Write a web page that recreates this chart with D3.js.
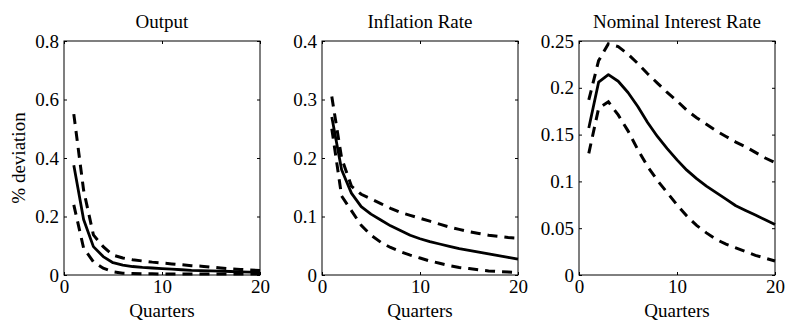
<!doctype html>
<html>
<head>
    <meta charset="utf-8">
    <script src="https://d3js.org/d3.v7.min.js"></script>
    <style>
        body { margin: 0; background: #fff; }
        svg { display: block; }
        text { font-family: "Liberation Serif", "Times New Roman", serif; fill: #000; }
    </style>
</head>
<body>
<svg id="chart" width="787" height="323"></svg>
<script>
    // quarters after the shock
    var quarters = [1, 2, 3, 4, 5, 6, 7, 8, 9, 10, 11, 12, 13, 14, 15, 16, 17, 18, 19, 20];

    // Output
    var outputMean = [0.375, 0.19, 0.097, 0.063, 0.042, 0.034, 0.029, 0.026, 0.024, 0.022, 0.020, 0.018, 0.016, 0.015, 0.014, 0.013, 0.012, 0.011, 0.010, 0.009];
    var outputUpper = [0.55, 0.29, 0.137, 0.097, 0.068, 0.058, 0.052, 0.048, 0.044, 0.041, 0.038, 0.035, 0.032, 0.030, 0.027, 0.024, 0.021, 0.019, 0.017, 0.015];
    var outputLower = [0.24, 0.092, 0.045, 0.023, 0.011, 0.006, 0.005, 0.004, 0.004, 0.003, 0.003, 0.003, 0.003, 0.003, 0.003, 0.003, 0.003, 0.003, 0.003, 0.003];

    // Inflation Rate
    var inflMean = [0.27, 0.18, 0.14, 0.117, 0.104, 0.094, 0.084, 0.076, 0.068, 0.062, 0.057, 0.053, 0.049, 0.045, 0.042, 0.039, 0.036, 0.033, 0.030, 0.027];
    var inflUpper = [0.305, 0.20, 0.152, 0.138, 0.13, 0.122, 0.114, 0.107, 0.102, 0.097, 0.092, 0.087, 0.082, 0.078, 0.074, 0.071, 0.068, 0.066, 0.064, 0.063];
    var inflLower = [0.25, 0.135, 0.11, 0.085, 0.068, 0.056, 0.047, 0.040, 0.034, 0.029, 0.024, 0.020, 0.016, 0.013, 0.011, 0.009, 0.007, 0.006, 0.005, 0.004];

    // Nominal Interest Rate
    var rateMean = [0.157, 0.206, 0.214, 0.207, 0.195, 0.18, 0.163, 0.148, 0.135, 0.123, 0.112, 0.103, 0.095, 0.088, 0.081, 0.074, 0.069, 0.064, 0.059, 0.054];
    var rateUpper = [0.187, 0.229, 0.247, 0.244, 0.236, 0.226, 0.215, 0.205, 0.195, 0.186, 0.176, 0.168, 0.161, 0.154, 0.148, 0.142, 0.137, 0.131, 0.125, 0.12];
    var rateLower = [0.13, 0.178, 0.185, 0.171, 0.154, 0.134, 0.116, 0.101, 0.088, 0.075, 0.063, 0.053, 0.045, 0.038, 0.033, 0.029, 0.025, 0.021, 0.018, 0.015];

    var titles = ["Output", "Inflation Rate", "Nominal Interest Rate"];
    var xTicks = [0, 10, 20];
    var yTicksOutput = [0, 0.2, 0.4, 0.6, 0.8];
    var yTicksInfl = [0, 0.1, 0.2, 0.3, 0.4];
    var yTicksRate = [0, 0.05, 0.1, 0.15, 0.2, 0.25];

    var panels = [
        { title: titles[0], yTicks: yTicksOutput, mean: outputMean, upper: outputUpper, lower: outputLower },
        { title: titles[1], yTicks: yTicksInfl, mean: inflMean, upper: inflUpper, lower: inflLower },
        { title: titles[2], yTicks: yTicksRate, mean: rateMean, upper: rateUpper, lower: rateLower }
    ];

    var lefts = [64, 322, 579];
    var boxTop = 41, w = 196, h = 234;

    var svg = d3.select("#chart");

    panels.forEach(function (p, i) {
        var g = svg.append("g").attr("transform", "translate(" + lefts[i] + "," + boxTop + ")");

        var x = d3.scaleLinear().domain([0, 20]).range([0, w]);
        var y = d3.scaleLinear().domain([0, p.yTicks[p.yTicks.length - 1]]).range([h, 0]);

        // inward ticks on all four sides, like the matlab box
        g.append("g").attr("transform", "translate(0," + h + ")")
            .call(d3.axisBottom(x).tickValues(xTicks).tickSizeInner(-3).tickSizeOuter(0).tickPadding(5).tickFormat(d => String(d)));
        g.append("g")
            .call(d3.axisTop(x).tickValues(xTicks).tickSizeInner(-3).tickSizeOuter(0).tickFormat(""));
        g.append("g")
            .call(d3.axisLeft(y).tickValues(p.yTicks).tickSizeInner(-3).tickSizeOuter(0).tickPadding(5).tickFormat(d => String(d)));
        g.append("g").attr("transform", "translate(" + w + ",0)")
            .call(d3.axisRight(y).tickValues(p.yTicks).tickSizeInner(-3).tickSizeOuter(0).tickFormat(""));

        g.selectAll(".domain").remove();
        g.selectAll(".tick line").attr("stroke", "#000");
        g.selectAll(".tick text")
            .style("font-size", "19px")
            .style("font-family", "'Liberation Serif', 'Times New Roman', serif")
            .attr("fill", "#000");

        var line = d3.line()
            .x((d, j) => x(quarters[j]))
            .y(d => y(d));

        [p.upper, p.lower].forEach(function (s) {
            g.append("path")
                .datum(s)
                .attr("d", line)
                .attr("fill", "none")
                .attr("stroke", "#000")
                .attr("stroke-width", 3)
                .attr("stroke-dasharray", "10,7");
        });

        g.append("path")
            .datum(p.mean)
            .attr("d", line)
            .attr("fill", "none")
            .attr("stroke", "#000")
            .attr("stroke-width", 2.8)
            .attr("stroke-linejoin", "round");

        // frame
        g.append("rect")
            .attr("width", w)
            .attr("height", h)
            .attr("fill", "none")
            .attr("stroke", "#000")
            .attr("stroke-width", 1);

        g.append("text")
            .attr("x", w / 2)
            .attr("y", 28 - boxTop)
            .attr("text-anchor", "middle")
            .style("font-size", "19px")
            .text(p.title);

        g.append("text")
            .attr("x", w / 2)
            .attr("y", 317 - boxTop)
            .attr("text-anchor", "middle")
            .style("font-size", "19px")
            .text("Quarters");
    });

    svg.append("text")
        .attr("transform", "translate(25," + (boxTop + h / 2) + ") rotate(-90)")
        .attr("text-anchor", "middle")
        .style("font-size", "19px")
        .text("% deviation");
</script>
</body>
</html>
